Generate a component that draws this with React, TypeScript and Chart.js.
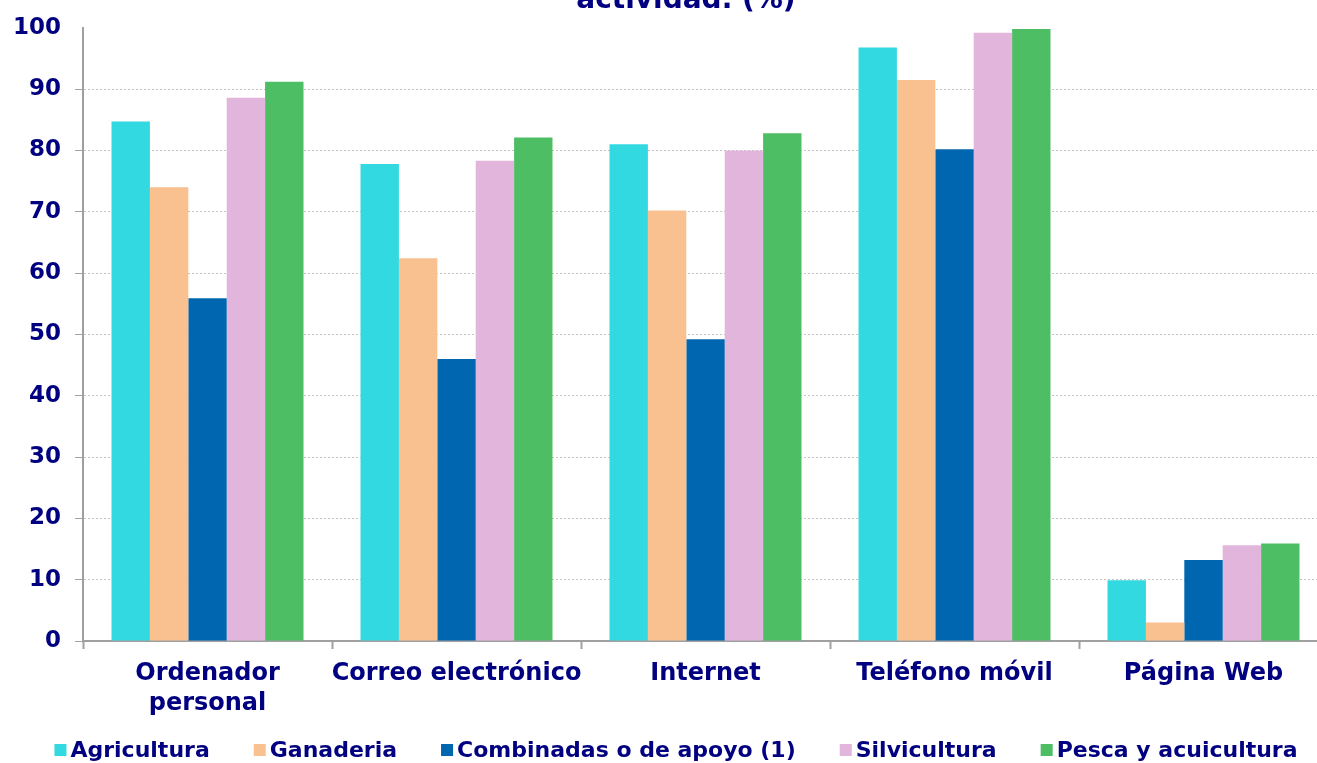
import { useEffect, useRef } from "react";
import { Chart, registerables } from "chart.js";

Chart.register(...registerables);

const categories: (string | string[])[] = [
  ["Ordenador", "personal"],
  "Correo electrónico",
  "Internet",
  "Teléfono móvil",
  "Página Web",
];
const seriesNames = [
  "Agricultura",
  "Ganaderia",
  "Combinadas o de apoyo (1)",
  "Silvicultura",
  "Pesca y acuicultura",
];
const seriesColors = ["#33D9E1", "#F9C190", "#0066B0", "#E2B5DC", "#4DBE63"];
const agricultura = [84.7, 77.8, 81.0, 96.8, 9.9];
const ganaderia = [74.0, 62.4, 70.2, 91.5, 3.0];
const combinadas = [55.9, 46.0, 49.2, 80.2, 13.2];
const silvicultura = [88.6, 78.3, 80.0, 99.2, 15.6];
const pesca = [91.2, 82.1, 82.8, 99.8, 15.9];
const yMin = 0;
const yMax = 100;
const yStep = 10;
const titleText = "actividad. (%)";

const NAVY = "#000080";
const FONT = "'DejaVu Sans', Verdana, sans-serif";

const overlayPlugin = {
  id: "overlay",
  afterDraw(chart: any) {
    const ctx = chart.ctx as CanvasRenderingContext2D;
    ctx.save();
    // partially visible title
    ctx.fillStyle = NAVY;
    ctx.font = `bold 28px ${FONT}`;
    ctx.textAlign = "center";
    ctx.textBaseline = "alphabetic";
    ctx.fillText(titleText, 686, 8);

    // legend
    ctx.font = `bold 22px ${FONT}`;
    ctx.textAlign = "left";
    ctx.textBaseline = "middle";
    const box = 12;
    const gap = 4;
    const spacing = 44;
    const dss = chart.data.datasets;
    const widths = dss.map((d: any) => ctx.measureText(d.label).width);
    const total =
      widths.reduce((a: number, b: number) => a + b + box + gap, 0) +
      spacing * (dss.length - 1);
    let x = 676 - total / 2;
    const cy = 750;
    dss.forEach((d: any, i: number) => {
      ctx.fillStyle = d.backgroundColor;
      ctx.fillRect(x, cy - box / 2, box, box);
      ctx.fillStyle = NAVY;
      ctx.fillText(d.label, x + box + gap, cy + 1);
      x += box + gap + widths[i] + spacing;
    });
    ctx.restore();
  },
};

export default function App() {
  const ref = useRef<HTMLCanvasElement>(null);

  useEffect(() => {
    const values = [agricultura, ganaderia, combinadas, silvicultura, pesca];
    const chart = new Chart(ref.current!, {
      type: "bar",
      data: {
        labels: categories,
        datasets: seriesNames.map((name, i) => ({
          label: name,
          data: values[i],
          backgroundColor: seriesColors[i],
          borderWidth: 0,
          categoryPercentage: 0.771,
          barPercentage: 1.0,
        })),
      },
      options: {
        responsive: false,
        devicePixelRatio: 1,
        animation: false,
        layout: { padding: { left: 0, right: 12, top: 26, bottom: 42 } },
        plugins: {
          legend: { display: false },
          title: { display: false },
          tooltip: { enabled: false },
        },
        scales: {
          x: {
            offset: true,
            grid: {
              display: true,
              drawOnChartArea: false,
              drawTicks: true,
              tickLength: 8,
              tickColor: "#a0a0a0",
              tickWidth: 2,
              offset: true,
            },
            border: { display: true, color: "#a0a0a0", width: 2 },
            ticks: {
              color: NAVY,
              font: { family: FONT, size: 24, weight: "bold", lineHeight: 1.25 },
              padding: 10,
              maxRotation: 0,
              autoSkip: false,
            },
            afterFit: (s: any) => {
              s.height = 80;
            },
          },
          y: {
            min: yMin,
            max: yMax,
            ticks: {
              stepSize: yStep,
              color: NAVY,
              font: { family: FONT, size: 23, weight: "bold" },
              padding: 14,
            },
            grid: {
              color: (c: any) =>
                c.tick && c.tick.value === yMax ? "rgba(0,0,0,0)" : "#c4c4c4",
              tickColor: (c: any) =>
                c.tick && c.tick.value === yMax ? "rgba(0,0,0,0)" : "#a0a0a0",
              tickLength: 8,
              lineWidth: 1,
            },
            border: { display: true, color: "#a0a0a0", width: 2, dash: [2, 2] },
            afterFit: (s: any) => {
              s.width = 83;
            },
          },
        },
      },
      plugins: [overlayPlugin],
    } as any);
    return () => chart.destroy();
  }, []);

  return (
    <div
      style={{
        position: "fixed",
        left: 0,
        top: 0,
        width: 1317,
        height: 763,
        overflow: "hidden",
        background: "#ffffff",
      }}
    >
      <canvas
        ref={ref}
        width={1340}
        height={763}
        style={{ display: "block", width: 1340, height: 763 }}
      />
    </div>
  );
}
